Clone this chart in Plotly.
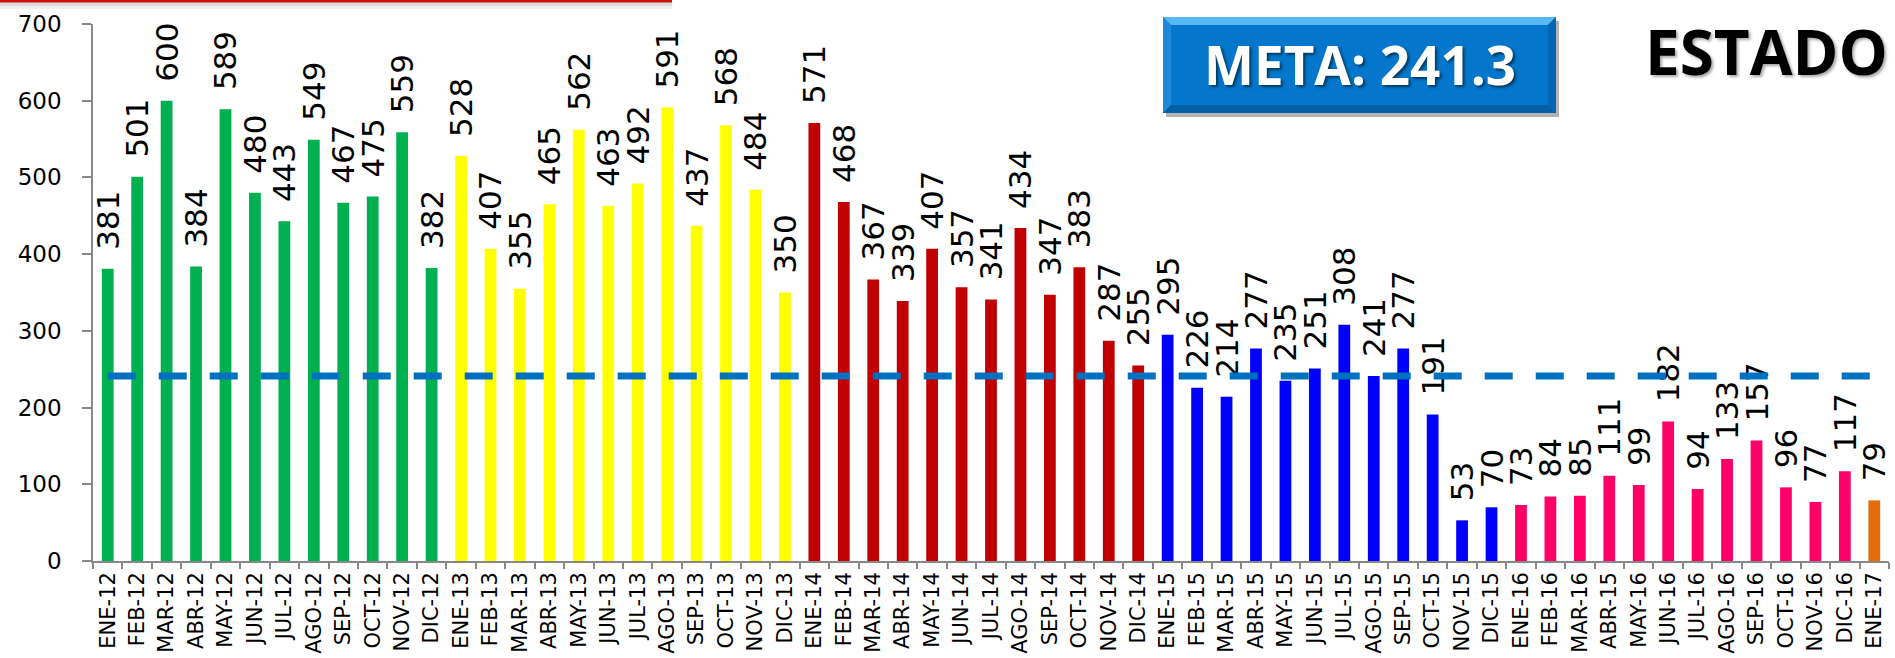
import plotly.graph_objects as go

# ---------------- data ----------------
months = ["ENE-12", "FEB-12", "MAR-12", "ABR-12", "MAY-12", "JUN-12", "JUL-12", "AGO-12", "SEP-12", "OCT-12", "NOV-12", "DIC-12",
          "ENE-13", "FEB-13", "MAR-13", "ABR-13", "MAY-13", "JUN-13", "JUL-13", "AGO-13", "SEP-13", "OCT-13", "NOV-13", "DIC-13",
          "ENE-14", "FEB-14", "MAR-14", "ABR-14", "MAY-14", "JUN-14", "JUL-14", "AGO-14", "SEP-14", "OCT-14", "NOV-14", "DIC-14",
          "ENE-15", "FEB-15", "MAR-15", "ABR-15", "MAY-15", "JUN-15", "JUL-15", "AGO-15", "SEP-15", "OCT-15", "NOV-15", "DIC-15",
          "ENE-16", "FEB-16", "MAR-16", "ABR-15", "MAY-16", "JUN-16", "JUL-16", "AGO-16", "SEP-16", "OCT-16", "NOV-16", "DIC-16",
          "ENE-17"]
values_2012 = [381, 501, 600, 384, 589, 480, 443, 549, 467, 475, 559, 382]
values_2013 = [528, 407, 355, 465, 562, 463, 492, 591, 437, 568, 484, 350]
values_2014 = [571, 468, 367, 339, 407, 357, 341, 434, 347, 383, 287, 255]
values_2015 = [295, 226, 214, 277, 235, 251, 308, 241, 277, 191, 53, 70]
values_2016 = [73, 84, 85, 111, 99, 182, 94, 133, 157, 96, 77, 117]
values_2017 = [79]
meta = 241.3

year_groups = [values_2012, values_2013, values_2014, values_2015, values_2016, values_2017]
year_colors = ["#00B050", "#FFFF00", "#C00000", "#0000FF", "#FF0066", "#E46C0A"]

values = []
colors = []
for vals, col in zip(year_groups, year_colors):
    values += vals
    colors += [col] * len(vals)
xpos = list(range(len(values)))

# ---------------- layout geometry ----------------
W, H = 1895, 658
L, R, T, B = 93, 6, 24, 97
PW, PH = W - L - R, H - T - B


def px(x):
    return (x - L) / PW


def py(y):
    return (H - B - y) / PH


fig = go.Figure()

fig.add_trace(go.Bar(
    x=xpos, y=values, width=0.4,
    marker=dict(color=colors, line=dict(width=0)),
    text=["\u00a0\u2009" + str(v) for v in values],
    textposition="outside", textangle=-90,
    textfont=dict(family="DejaVu Sans", size=31, color="black"),
    constraintext="none", cliponaxis=False,
    hoverinfo="x+y", showlegend=False,
))

fig.add_trace(go.Scatter(
    x=xpos, y=[meta] * len(xpos), mode="lines",
    line=dict(color="#0070C0", width=7, dash="28px,23px"),
    showlegend=False, hoverinfo="skip",
))

shapes = []
# cropped red title box edge at top-left
shapes.append(dict(type="rect", xref="paper", yref="paper", x0=px(-5), x1=px(672), y0=py(9), y1=py(2),
                   fillcolor="rgba(0,0,0,0.06)", line=dict(width=0), layer="above"))
shapes.append(dict(type="rect", xref="paper", yref="paper", x0=px(-5), x1=px(672), y0=py(6), y1=py(2),
                   fillcolor="rgba(0,0,0,0.08)", line=dict(width=0), layer="above"))
shapes.append(dict(type="rect", xref="paper", yref="paper", x0=px(-5), x1=px(672), y0=py(2.5), y1=py(-3),
                   fillcolor="#D01010", line=dict(width=0), layer="above"))

# META box with bevel
bx0, bx1, by0, by1, bv = 1163, 1556, 17, 113, 8


def path(pts):
    return "M " + " L ".join(f"{px(a):.6f},{py(b):.6f}" for a, b in pts) + " Z"


shapes.append(dict(type="path", xref="paper", yref="paper",
                   path=path([(bx0 + 3, by0 + 4), (bx1 + 3, by0 + 4), (bx1 + 3, by1 + 4), (bx0 + 3, by1 + 4)]),
                   fillcolor="rgba(0,0,0,0.30)", line=dict(width=0), layer="above"))
shapes.append(dict(type="path", xref="paper", yref="paper",
                   path=path([(bx0, by0), (bx1, by0), (bx1, by1), (bx0, by1)]),
                   fillcolor="#0477CC", line=dict(width=0), layer="above"))
shapes.append(dict(type="path", xref="paper", yref="paper",
                   path=path([(bx0, by0), (bx1, by0), (bx1 - bv, by0 + bv), (bx0 + bv, by0 + bv)]),
                   fillcolor="#55B8F0", line=dict(width=0), layer="above"))
shapes.append(dict(type="path", xref="paper", yref="paper",
                   path=path([(bx0, by0), (bx0 + bv, by0 + bv), (bx0 + bv, by1 - bv), (bx0, by1)]),
                   fillcolor="#1E8ADA", line=dict(width=0), layer="above"))
shapes.append(dict(type="path", xref="paper", yref="paper",
                   path=path([(bx1, by0), (bx1, by1), (bx1 - bv, by1 - bv), (bx1 - bv, by0 + bv)]),
                   fillcolor="#0466B4", line=dict(width=0), layer="above"))
shapes.append(dict(type="path", xref="paper", yref="paper",
                   path=path([(bx0, by1), (bx0 + bv, by1 - bv), (bx1 - bv, by1 - bv), (bx1, by1)]),
                   fillcolor="#055FA6", line=dict(width=0), layer="above"))

annotations = [
    dict(xref="paper", yref="paper", x=px((bx0 + bx1) / 2), y=py(64), text="<b>META: 241.3</b>",
         showarrow=False, xanchor="center", yanchor="middle",
         font=dict(family="Open Sans", size=53, color="white", shadow="2px 2px 3px rgba(0,0,0,0.55)")),
    dict(xref="paper", yref="paper", x=px(1766), y=py(51), text="<b>ESTADO</b>",
         showarrow=False, xanchor="center", yanchor="middle",
         font=dict(family="Open Sans", size=62, color="black", shadow="2px 2px 3px rgba(0,0,0,0.35)")),
]

fig.update_layout(
    width=W, height=H,
    margin=dict(l=L, r=R, t=T, b=B, pad=0, autoexpand=False),
    paper_bgcolor="white", plot_bgcolor="white",
    bargap=0.6,
    shapes=shapes, annotations=annotations,
    xaxis=dict(
        range=[-0.5, len(values) - 0.5], automargin=False,
        tickmode="array", tickvals=xpos, ticktext=months,
        tickangle=-90, ticks="outside", ticklen=1, tickcolor="rgba(0,0,0,0)",
        ticklabelstandoff=0,
        tickfont=dict(family="DejaVu Sans", size=21, color="black"),
        showline=True, linecolor="#888888", linewidth=1.5,
        showgrid=False, zeroline=False,
        minor=dict(tickmode="array", tickvals=[i - 0.5 for i in range(len(values) + 1)],
                   ticks="outside", ticklen=6, tickcolor="#888888", tickwidth=1.5, showgrid=False),
    ),
    yaxis=dict(
        range=[0, 700], tickmode="linear", tick0=0, dtick=100, automargin=False,
        ticks="outside", ticklen=9, tickcolor="#888888", tickwidth=1.5,
        ticklabelstandoff=16,
        tickfont=dict(family="DejaVu Sans", size=23, color="black"),
        showline=True, linecolor="#888888", linewidth=1.5,
        showgrid=False, zeroline=False,
    ),
)

fig.write_html("out.html",
               config={"displayModeBar": False},
               post_script="document.body.style.margin='0';document.body.style.padding='0';"
                           "document.body.style.overflow='hidden';")
